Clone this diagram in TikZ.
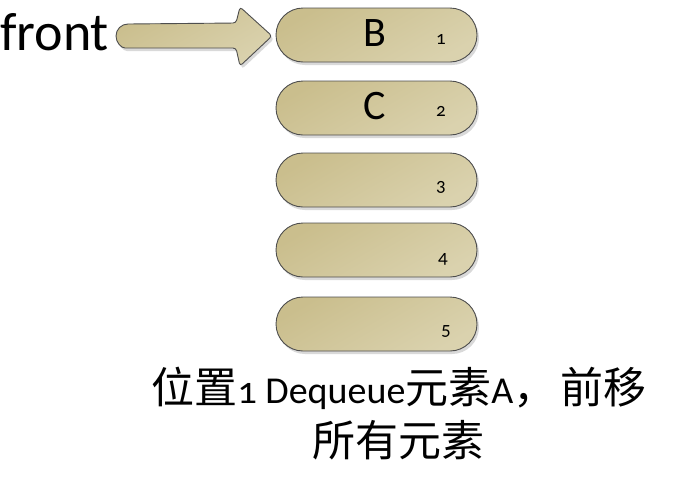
\documentclass[tikz,border=0pt]{standalone}
\usepackage{fontspec}
\setmainfont{Carlito}[Numbers=OldStyle]
\newfontfamily\cjk{Noto Sans CJK SC}
\usetikzlibrary{shadows}
\definecolor{tanA}{HTML}{CABE8D}
\definecolor{tanB}{HTML}{DAD2AE}
\definecolor{edgec}{HTML}{4E4E4E}
\tikzset{
  pill/.style={draw=edgec, line width=0.9pt, rounded corners=27pt,
    minimum width=201pt, minimum height=54pt, inner sep=0pt,
    top color=tanA, bottom color=tanB, shading angle=30,
    drop shadow={shadow xshift=2pt, shadow yshift=-3pt, fill=black!25, opacity=.6}},
  letter/.style={font=\fontsize{42}{44}\selectfont, inner sep=0pt},
  idx/.style={font=\fontsize{19}{20}\selectfont, inner sep=0pt},
  arrowbody/.style={draw=edgec, line width=0.9pt, top color=tanA, bottom color=tanB, shading angle=30,
    drop shadow={shadow xshift=2pt, shadow yshift=-3pt, fill=black!25, opacity=.6}},
  caption/.style={font=\fontsize{38}{53}\selectfont, inner sep=0pt, align=center}
}
\newcommand{\bigcjk}[1]{{\fontsize{43}{53}\selectfont\cjk #1}}
\begin{document}
\begin{tikzpicture}[x=1pt,y=-1pt]
\useasboundingbox (0,0) rectangle (673,477);
\node[pill] (p1) at (376.5,35) {};
\node[pill] (p2) at (376.5,108) {};
\node[pill] (p3) at (376.5,180) {};
\node[pill] (p4) at (376.5,250) {};
\node[pill] (p5) at (376.5,324) {};
\node[letter] (b) at (375,33) {B};
\node[letter] (c) at (375,106) {C};
\node[idx] (n1) at (441,39) {1};
\node[idx] (n2) at (441,111) {2};
\node[idx] (n3) at (441,187) {3};
\node[idx] (n4) at (443,259) {4};
\node[idx] (n5) at (446,331) {5};
\node[font=\fontsize{54}{56}\selectfont, inner sep=0pt, anchor=base west] (front) at (0,50) {front};
\coordinate (tip) at (272,36);
\path[arrowbody, rounded corners=3pt]
  (128,24) -- (236,23) -- (240,7) -- (tip) -- (240,66) -- (236,48) -- (128,48)
  [sharp corners] arc[start angle=90, end angle=270, radius=12] -- cycle;
\node[caption] (cap) at (399,414) {\bigcjk{位置}1 Dequeue\bigcjk{元素}A\bigcjk{，}\hspace{4pt}\bigcjk{前移}\\\bigcjk{所有元素}};
\end{tikzpicture}
\end{document}
